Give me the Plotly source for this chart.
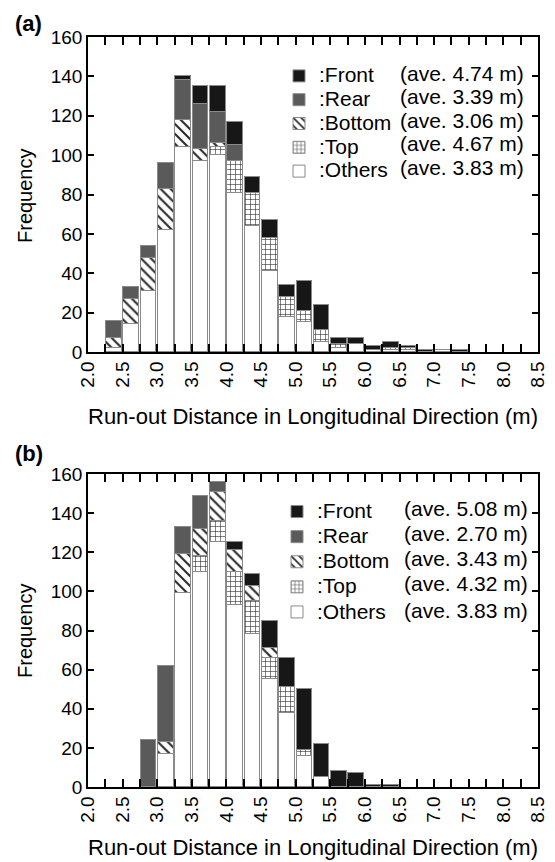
import plotly.graph_objects as go

# ---------------- data ----------------
# lower edge of each 0.25 m bin
bins_a = [2.25, 2.50, 2.75, 3.00, 3.25, 3.50, 3.75, 4.00, 4.25, 4.50, 4.75,
          5.00, 5.25, 5.50, 5.75, 6.00, 6.25, 6.50, 6.75, 7.00, 7.25]
others_a = [2, 14, 31, 62, 104, 97, 100, 81, 64, 41, 18, 15, 5, 2, 4, 1, 1, 1, 0, 1, 0]
top_a    = [0, 0, 0, 0, 0, 0, 4, 16, 17, 17, 10, 6, 6, 2, 0, 0, 1, 1, 0, 0, 0]
bottom_a = [5, 13, 17, 21, 14, 6, 2, 0, 0, 0, 0, 0, 0, 0, 0, 0, 0, 0, 0, 0, 0]
rear_a   = [9, 6, 6, 13, 20, 23, 16, 8, 0, 0, 0, 0, 0, 0, 0, 0, 0, 0, 0, 0, 0]
front_a  = [0, 0, 0, 0, 2, 9, 13, 12, 8, 9, 6, 15, 13, 3, 3, 2, 3, 1, 1, 0, 1]

bins_b = [2.75, 3.00, 3.25, 3.50, 3.75, 4.00, 4.25, 4.50, 4.75, 5.00, 5.25,
          5.50, 5.75, 6.00, 6.25]
others_b = [0, 17, 99, 110, 125, 93, 78, 55, 38, 16, 5, 0, 0, 0, 0]
top_b    = [0, 0, 0, 8, 11, 17, 17, 11, 13, 3, 0, 0, 0, 0, 0]
bottom_b = [0, 6, 20, 14, 15, 11, 8, 5, 0, 0, 0, 0, 0, 0, 0]
rear_b   = [24, 39, 14, 17, 5, 0, 0, 0, 0, 0, 0, 0, 0, 0, 0]
front_b  = [0, 0, 0, 0, 0, 4, 6, 14, 15, 31, 17, 8, 7, 1, 1]

categories = ["Front", "Rear", "Bottom", "Top", "Others"]
ave_a = ["4.74", "3.39", "3.06", "4.67", "3.83"]
ave_b = ["5.08", "2.70", "3.43", "4.32", "3.83"]

X_MIN, X_MAX, X_STEP = 2.0, 8.5, 0.5
Y_MIN, Y_MAX, Y_STEP = 0, 160, 20

BIN = 0.25
FONT = "Liberation Sans, Arial, sans-serif"

styles = {
    "Others": dict(color="white"),
    "Top": dict(color="white", pattern=dict(shape="+", fgcolor="#2a2a2a", bgcolor="white", size=5, solidity=0.22)),
    "Bottom": dict(color="white", pattern=dict(shape="\\", fgcolor="#2a2a2a", bgcolor="white", size=7, solidity=0.3)),
    "Rear": dict(color="#5a5a5a"),
    "Front": dict(color="#171717"),
}

fig = go.Figure()

def add_panel(bins, series, xa, ya, legend):
    xs = [b + BIN / 2 for b in bins]
    for name in ["Others", "Top", "Bottom", "Rear", "Front"]:
        st = styles[name]
        marker = dict(color=st["color"], line=dict(color="#8a8a8a", width=1))
        if "pattern" in st:
            marker["pattern"] = st["pattern"]
        fig.add_trace(go.Bar(
            x=xs, y=series[name], width=BIN * 0.9,
            name='<span style="font-size:21px">:' + name + '</span>',
            marker=marker, xaxis=xa, yaxis=ya, legend=legend,
        ))

add_panel(bins_a, {"Others": others_a, "Top": top_a, "Bottom": bottom_a,
                   "Rear": rear_a, "Front": front_a}, "x", "y", "legend")
add_panel(bins_b, {"Others": others_b, "Top": top_b, "Bottom": bottom_b,
                   "Rear": rear_b, "Front": front_b}, "x2", "y2", "legend2")

W, H = 555, 862
ML, MR, MT, MB = 88, 17, 37, 75
PW, PH = W - ML - MR, H - MT - MB

def px_x(p):
    return (p - ML) / PW

def px_y(p):
    return 1 - (p - MT) / PH

# ticks every 0.25 m, labels every 0.5 m
n_q = int(round((X_MAX - X_MIN) / (X_STEP / 2)))
x_tickvals = [X_MIN + i * X_STEP / 2 for i in range(n_q + 1)]
x_ticktext = ["%.1f" % v if i % 2 == 0 else "" for i, v in enumerate(x_tickvals)]

xaxis_common = dict(
    range=[X_MIN, X_MAX], tickmode="array", tickvals=x_tickvals, ticktext=x_ticktext,
    tickangle=-90, ticks="inside", ticklen=8, tickwidth=1.5, tickcolor="black",
    showline=True, mirror="ticks",
    tickfont=dict(family=FONT, size=19, color="black"),
)
yaxis_common = dict(
    range=[Y_MIN, Y_MAX], tickmode="linear", tick0=Y_MIN, dtick=Y_STEP,
    ticks="inside", ticklen=6, tickwidth=1.5, tickcolor="black",
    showline=True, mirror="ticks",
    tickfont=dict(family=FONT, size=19, color="black"),
)

dom_a = [px_y(352), 1.0]
dom_b = [0.0, px_y(474)]

fig.update_layout(
    template="none",
    width=W, height=H, margin=dict(l=ML, r=MR, t=MT, b=MB),
    barmode="stack", bargap=0,
    font=dict(family=FONT, color="black"),
    xaxis=dict(xaxis_common, anchor="y"),
    yaxis=dict(yaxis_common, domain=dom_a, anchor="x"),
    xaxis2=dict(xaxis_common, anchor="y2"),
    yaxis2=dict(yaxis_common, domain=dom_b, anchor="x2"),
    legend=dict(x=px_x(279), y=px_y(59), xanchor="left", yanchor="top",
                traceorder="reversed", font=dict(family=FONT, size=16),
                bgcolor="rgba(0,0,0,0)", itemclick=False),
    legend2=dict(x=px_x(277), y=px_y(494), xanchor="left", yanchor="top",
                 traceorder="reversed", font=dict(family=FONT, size=17),
                 bgcolor="rgba(0,0,0,0)", itemclick=False),
    showlegend=True,
)
fig.update_xaxes(showgrid=False, zeroline=False, linecolor="black", linewidth=1.5)
fig.update_yaxes(showgrid=False, zeroline=False, linecolor="black", linewidth=1.5)

ann = []
rows_a = [73, 97, 120, 143, 167]
rows_b = [508, 533, 558, 583, 610]
for i, v in enumerate(ave_a):
    ann.append(dict(x=px_x(398), y=px_y(rows_a[i]), xref="paper", yref="paper",
                    xanchor="left", yanchor="middle", showarrow=False,
                    text="(ave. %s m)" % v, font=dict(family=FONT, size=21)))
for i, v in enumerate(ave_b):
    ann.append(dict(x=px_x(402), y=px_y(rows_b[i]), xref="paper", yref="paper",
                    xanchor="left", yanchor="middle", showarrow=False,
                    text="(ave. %s m)" % v, font=dict(family=FONT, size=21)))

for lab, ycen in [("(a)", 23), ("(b)", 453)]:
    ann.append(dict(x=px_x(13), y=px_y(ycen), xref="paper", yref="paper",
                    xanchor="left", yanchor="middle", showarrow=False,
                    text="<b>%s</b>" % lab, font=dict(family=FONT, size=22)))

xtitle = "Run-out Distance in Longitudinal Direction (m)"
for ycen in [416, 847]:
    ann.append(dict(x=0.5, y=px_y(ycen), xref="paper", yref="paper",
                    xanchor="center", yanchor="middle", showarrow=False,
                    text=xtitle, font=dict(family=FONT, size=22)))
for ycen in [195, 630]:
    ann.append(dict(x=px_x(25), y=px_y(ycen), xref="paper", yref="paper",
                    xanchor="center", yanchor="middle", showarrow=False,
                    text="Frequency", textangle=-90, font=dict(family=FONT, size=20)))

fig.update_layout(annotations=ann)
fig.write_html("out.html")
